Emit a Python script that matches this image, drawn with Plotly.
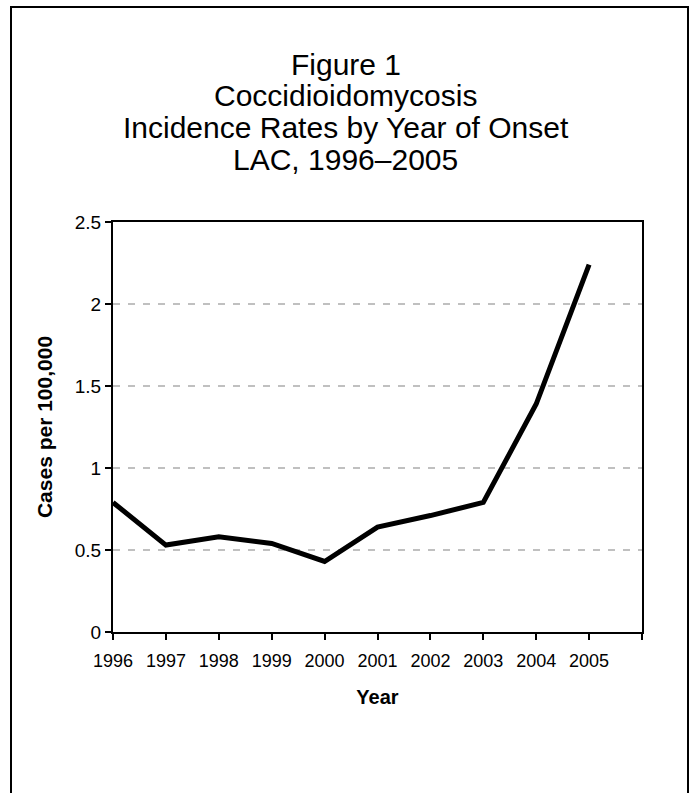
import plotly.graph_objects as go

years = [1996, 1997, 1998, 1999, 2000, 2001, 2002, 2003, 2004, 2005]
rates = [0.79, 0.53, 0.58, 0.54, 0.43, 0.64, 0.71, 0.79, 1.39, 2.24]
tick_years = [1996, 1997, 1998, 1999, 2000, 2001, 2002, 2003, 2004, 2005, 2006]
tick_labels = ["1996", "1997", "1998", "1999", "2000", "2001", "2002", "2003", "2004", "2005", ""]
y_ticks = [0, 0.5, 1, 1.5, 2, 2.5]
y_labels = ["0", "0.5", "1", "1.5", "2", "2.5"]
title_lines = ["Figure 1", "Coccidioidomycosis", "Incidence Rates by Year of Onset", "LAC, 1996–2005"]

FONT = "Liberation Sans, Arial, sans-serif"
W, H = 691, 793
M = {"l": 113, "r": 49, "t": 222, "b": 161}
PW = W - M["l"] - M["r"]
PH = H - M["t"] - M["b"]


def px_x(x):
    return (x - M["l"]) / PW


def px_y(y):
    return (H - M["b"] - y) / PH


fig = go.Figure(go.Scatter(
    x=years, y=rates, mode="lines",
    line={"color": "black", "width": 5},
    showlegend=False, hoverinfo="skip",
))

fig.update_layout(
    width=W, height=H, margin=M,
    paper_bgcolor="white", plot_bgcolor="white",
    font={"family": FONT, "color": "black"},
)

fig.update_xaxes(
    range=[1996, 2006], tickvals=tick_years, ticktext=tick_labels,
    showgrid=False, zeroline=False,
    showline=True, linecolor="black", linewidth=2, mirror=True,
    ticks="outside", ticklen=6, tickwidth=2, tickcolor="black",
    tickfont={"size": 18}, ticklabelstandoff=5,
    title={"text": "<b>Year</b>", "font": {"size": 20}, "standoff": 20},
)
fig.update_yaxes(
    range=[0, 2.5], tickvals=y_ticks, ticktext=y_labels,
    showgrid=True, gridcolor="#c0c0c0", gridwidth=2, griddash="7px,8px",
    zeroline=False,
    showline=True, linecolor="black", linewidth=2, mirror=True,
    ticks="outside", ticklen=6, tickwidth=2, tickcolor="black",
    tickfont={"size": 19},
    title={"text": "<b>Cases per 100,000</b>", "font": {"size": 21}, "standoff": 16},
)

# title lines, one annotation each so the line spacing matches
for i, line in enumerate(title_lines):
    fig.add_annotation(
        text=line, xref="paper", yref="paper",
        x=px_x(W / 2), y=px_y(64 + 31.7 * i),
        xanchor="center", yanchor="middle", showarrow=False,
        font={"size": 30, "family": FONT},
    )

# outer frame around the whole figure
fig.add_shape(
    type="rect", xref="paper", yref="paper",
    x0=px_x(11), x1=px_x(688), y0=px_y(H + 5), y1=px_y(7),
    line={"color": "black", "width": 2}, layer="above",
)

fig.write_html(
    "out.html",
    config={"displayModeBar": False},
    post_script="document.body.style.margin='0';",
)
